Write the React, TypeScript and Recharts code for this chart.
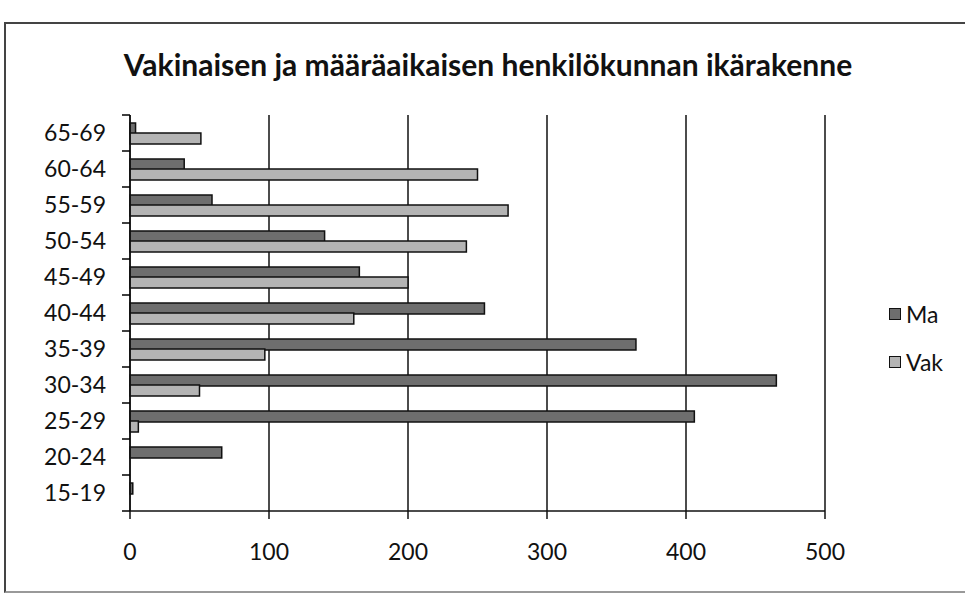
import React from 'react';
import { BarChart, Bar, XAxis, YAxis, CartesianGrid } from 'recharts';

const AGES = ['15-19', '20-24', '25-29', '30-34', '35-39', '40-44', '45-49', '50-54', '55-59', '60-64', '65-69'];
const MA = [2, 66, 406, 465, 364, 255, 165, 140, 59, 39, 4];
const VAK = [0, 0, 6, 50, 97, 161, 200, 242, 272, 250, 51];
const X_TICKS = [0, 100, 200, 300, 400, 500];

const TITLE = 'Vakinaisen ja määräaikaisen henkilökunnan ikärakenne';
const FONT = 'Lato, "Open Sans", sans-serif';
const MA_FILL = '#6e6e6e';
const VAK_FILL = '#b4b4b4';

const W = 965;
const H = 594;
const margin = { top: 115, right: 140, left: 0, bottom: 43 };
const X_AXIS_H = 40;
const BAND = (H - margin.top - margin.bottom - X_AXIS_H) / AGES.length;

const data = AGES.map((age, i) => ({ age, Ma: MA[i], Vak: VAK[i] }));

// Excel puts category ticks on the band edges, so the tick line is drawn by hand
function AgeTick(props: any) {
  const { x, y, payload, index } = props;
  const axisX = x + 24;
  return (
    <g>
      <line x1={axisX - 8} x2={axisX} y1={y - BAND / 2} y2={y - BAND / 2} stroke="#000" strokeWidth={1.5} />
      {index === 0 && (
        <line x1={axisX - 8} x2={axisX} y1={y + BAND / 2} y2={y + BAND / 2} stroke="#000" strokeWidth={1.5} />
      )}
      <text x={x} y={y} dy="0.35em" textAnchor="end" fontSize={23} fill="#111" fontFamily={FONT}>
        {payload.value}
      </text>
    </g>
  );
}

const LEGEND = [
  { name: 'Ma', fill: MA_FILL },
  { name: 'Vak', fill: VAK_FILL },
];

export default function App() {
  return (
    <div style={{ position: 'absolute', left: 0, top: 0, width: W, height: H, background: '#fff', overflow: 'hidden' }}>
      <div style={{
        position: 'absolute', left: 4, top: 22, width: 980, height: 567,
        borderLeft: '2px solid #444', borderTop: '2px solid #444', borderBottom: '2px solid #999',
      }} />
      <div style={{
        position: 'absolute', left: 0, width: 976, top: 46, textAlign: 'center',
        fontFamily: FONT, fontWeight: 700, fontSize: 30, color: '#111',
      }}>
        {TITLE}
      </div>
      <div style={{ position: 'absolute', left: 0, top: 0 }}>
        <BarChart width={W} height={H} data={data} layout="vertical" margin={margin}
          barGap={-1} barSize={11}>
          <CartesianGrid horizontal={false} vertical stroke="#111" strokeWidth={1.5} />
          <XAxis type="number" domain={[0, 500]} ticks={X_TICKS} height={X_AXIS_H}
            axisLine={{ stroke: '#111', strokeWidth: 1.5 }}
            tickLine={{ stroke: '#111', strokeWidth: 1.5 }} tickSize={8} tickMargin={25}
            tick={{ fontSize: 23, fill: '#111', fontFamily: FONT }} interval={0} />
          <YAxis type="category" dataKey="age" reversed width={130} interval={0}
            axisLine={{ stroke: '#111', strokeWidth: 1.5 }} tickLine={false}
            tickSize={8} tickMargin={16} tick={<AgeTick />} />
          <Bar dataKey="Ma" fill={MA_FILL} stroke="#111" strokeWidth={1.5} isAnimationActive={false} />
          <Bar dataKey="Vak" fill={VAK_FILL} stroke="#111" strokeWidth={1.5} isAnimationActive={false} />
        </BarChart>
      </div>
      <div style={{ position: 'absolute', left: 889, top: 290, fontFamily: FONT }}>
        {LEGEND.map(it => (
          <div key={it.name} style={{ display: 'flex', alignItems: 'center', height: 48 }}>
            <span style={{
              display: 'inline-block', width: 10, height: 10, background: it.fill,
              border: '1.5px solid #111', marginRight: 5,
            }} />
            <span style={{ fontSize: 23, color: '#111' }}>{it.name}</span>
          </div>
        ))}
      </div>
    </div>
  );
}
